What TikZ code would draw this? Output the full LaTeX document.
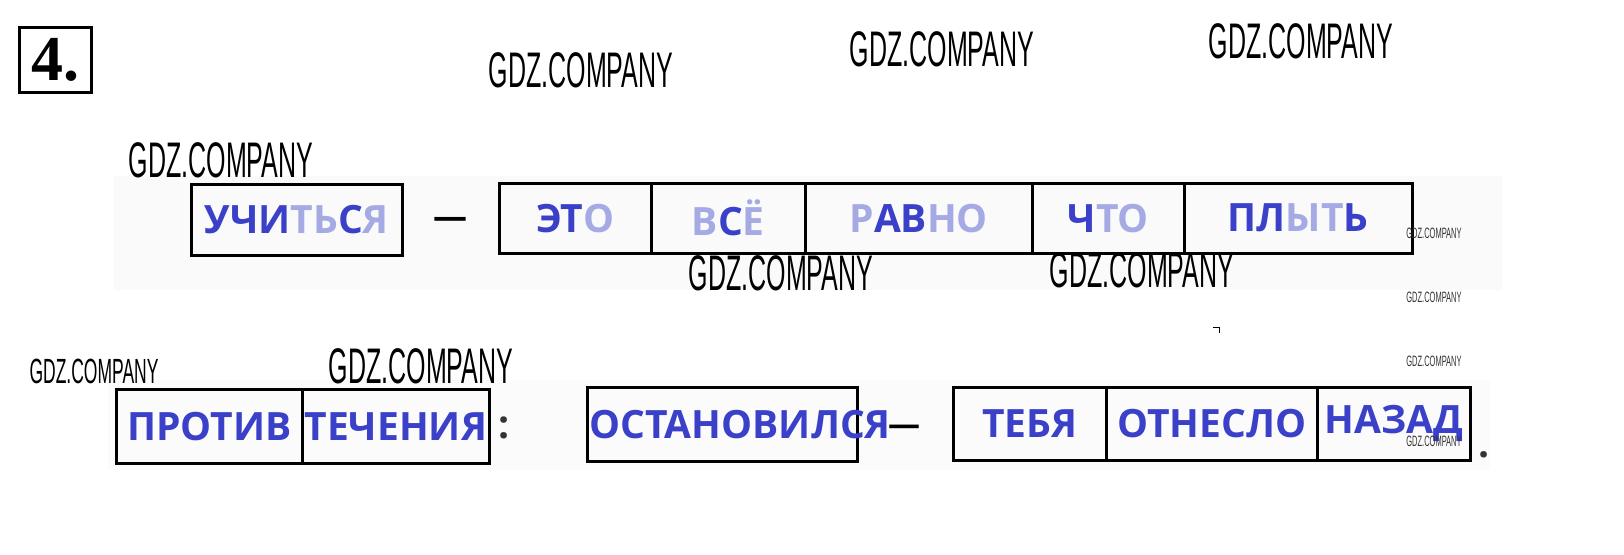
\documentclass[tikz,border=0pt]{standalone}
\usepackage{fontspec}
\setmainfont{Open Sans}
\newfontfamily\wmfont[FakeStretch=0.5]{Liberation Sans}
\newfontfamily\numfont{Liberation Serif}
\definecolor{wblue}{RGB}{58,64,200}
\definecolor{wfade}{RGB}{165,170,228}
\tikzset{
  cellbox/.style={draw=black, line width=2.5pt, inner sep=0pt, anchor=north west,
    font=\bfseries\fontsize{39}{39}\selectfont, text=wblue},
  word/.style={inner sep=0pt, font=\bfseries\fontsize{39}{39}\selectfont, text=wblue},
  wmbig/.style={inner sep=0pt, font=\wmfont\fontsize{50}{50}\selectfont, text=black},
  wmmid/.style={inner sep=0pt, font=\wmfont\fontsize{35}{35}\selectfont, text=black},
  wmtiny/.style={inner sep=0pt, font=\wmfont\fontsize{15}{15}\selectfont, text=black!80},
}
\newcommand{\fd}[1]{\textcolor{wfade}{#1}}
\begin{document}
\begin{tikzpicture}[x=1pt,y=-1pt]
\useasboundingbox (0,0) rectangle (1624,554);
% faint background bands
\fill[black!2] (114,176) rectangle (1502,290);
\fill[black!1.5] (108,380) rectangle (1490,470);
% task number
\node[draw=black, line width=3pt, minimum width=72pt, minimum height=65pt, anchor=north west,
  inner sep=0pt, font=\numfont\bfseries\fontsize{64}{64}\selectfont] (num) at (18,26) {4.};
% row 1
\node[cellbox, minimum width=211pt, minimum height=71pt] (uch) at (190,183) {УЧИ\fd{ТЬ}С\fd{Я}};
\node[word, font=\bfseries\fontsize{34}{34}\selectfont, text=black] (d1) at (450,223) {—};
\node[cellbox, minimum width=152pt, minimum height=70pt] (eto) at (498,182) {ЭТ\fd{О}};
\node[cellbox, minimum width=154pt, minimum height=70pt] (vse) at (650,182) {\fd{В}С\fd{Ё}};
\node[cellbox, minimum width=227pt, minimum height=70pt] (ravno) at (804,182) {\fd{Р}АВ\fd{НО}};
\node[cellbox, minimum width=152pt, minimum height=70pt] (chto) at (1031,182) {Ч\fd{ТО}};
\node[cellbox, minimum width=228pt, minimum height=70pt] (plyt) at (1183,182) {ПЛ\fd{ЫТ}Ь};
% row 2
\node[cellbox, minimum width=186pt, minimum height=74pt] (protiv) at (115,388) {ПРОТИВ};
\node[cellbox, minimum width=187pt, minimum height=74pt] (tech) at (301,388) {ТЕЧЕНИЯ};
\node[word, text=black!80] (colon) at (504,428) {:};
\node[cellbox, minimum width=270pt, minimum height=74pt] (ostbox) at (586,386) {};
\node[word, anchor=west] (ost) at (589,425) {ОСТАНОВИЛСЯ};
\node[word, text=black, font=\bfseries\fontsize{32}{32}\selectfont] (d2) at (904,430) {—};
\node[cellbox, minimum width=153pt, minimum height=73pt] (teb) at (952,386) {ТЕБЯ};
\node[cellbox, minimum width=211pt, minimum height=73pt] (otn) at (1105,386) {ОТНЕСЛО};
\node[cellbox, minimum width=153pt, minimum height=73pt] (naz) at (1316,386) {НАЗАД};
\node[word, text=black!80] (dot) at (1484,455) {.};
% small mark
\draw[line width=1pt] (1213,327) -- (1219,327) -- (1219,333);
% watermarks
\node[wmbig] (w1) at (581,70) {GDZ.COMPANY};
\node[wmbig] (w2) at (942,49) {GDZ.COMPANY};
\node[wmbig] (w3) at (1301,41) {GDZ.COMPANY};
\node[wmbig] (w4) at (221,160) {GDZ.COMPANY};
\node[wmbig] (w5) at (781,273) {GDZ.COMPANY};
\node[wmbig] (w6) at (1142,270) {GDZ.COMPANY};
\node[wmbig] (w8) at (421,366) {GDZ.COMPANY};
\node[wmmid] (w7) at (94,371) {GDZ.COMPANY};
\node[wmtiny] (t1) at (1434,233) {GDZ.COMPANY};
\node[wmtiny] (t2) at (1434,297) {GDZ.COMPANY};
\node[wmtiny] (t3) at (1434,361) {GDZ.COMPANY};
\node[wmtiny] (t4) at (1434,441) {GDZ.COMPANY};
\end{tikzpicture}
\end{document}
